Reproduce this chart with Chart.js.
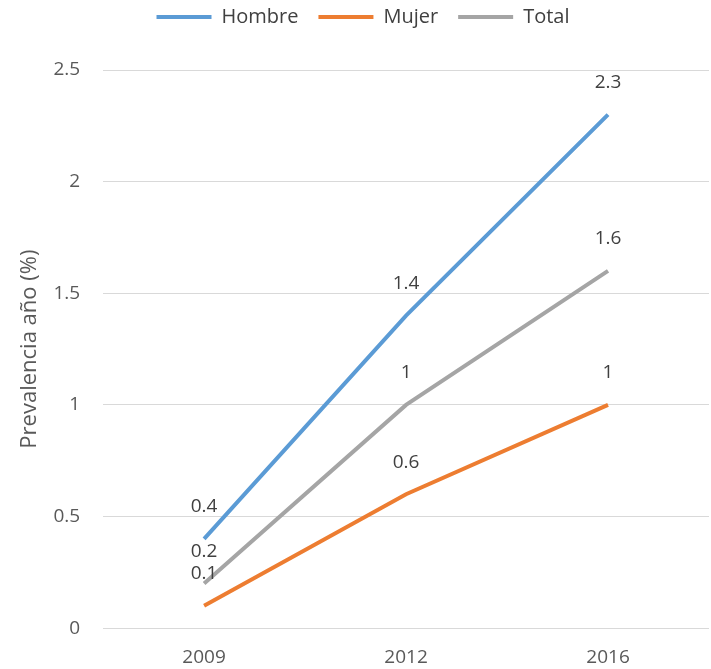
<!DOCTYPE html>
<html>
<head>
<meta charset="utf-8">
<script src="https://cdn.jsdelivr.net/npm/chart.js@4/dist/chart.umd.min.js"></script>
<style>
  html, body { margin: 0; padding: 0; background: #fff; }
  .wrap { width: 711px; height: 669px; }
</style>
</head>
<body>
<div class="wrap">
  <canvas id="prev"></canvas>
</div>
<script>
// values
var years = ['2009', '2012', '2016'];
var hombre = [0.4, 1.4, 2.3];
var mujer = [0.1, 0.6, 1];
var total = [0.2, 1, 1.6];
var yTicks = ['0', '0.5', '1', '1.5', '2', '2.5'];

var font = "'Open Sans', 'Liberation Sans', sans-serif";

// little plugin to write the value above every point
var pointLabels = {
  id: 'pointLabels',
  afterDatasetsDraw: function(chart) {
    var ctx = chart.ctx;
    ctx.save();
    ctx.font = '19px ' + font;
    ctx.fillStyle = '#404040';
    ctx.textAlign = 'center';
    ctx.textBaseline = 'middle';
    chart.data.datasets.forEach(function(ds, i) {
      var meta = chart.getDatasetMeta(i);
      meta.data.forEach(function(pt, j) {
        ctx.fillText(String(ds.data[j]), pt.x, pt.y - 32);
      });
    });
    ctx.restore();
  }
};

// leave more room between the legend and the plot
var legendGap = {
  id: 'legendGap',
  beforeInit: function(chart) {
    var fit = chart.legend.fit;
    chart.legend.fit = function() {
      fit.call(this);
      this.height += 33;
    };
  }
};

function line(label, data, color) {
  return {
    label: label,
    data: data,
    borderColor: color,
    backgroundColor: color,
    borderWidth: 4,
    pointRadius: 0,
    pointStyle: 'line',
    tension: 0,
    fill: false
  };
}

var ctx = document.getElementById('prev');
new Chart(ctx, {
  type: 'line',
  data: {
    labels: years,
    datasets: [
      line('Hombre', hombre, '#5B9BD5'),
      line('Mujer', mujer, '#ED7D31'),
      line('Total', total, '#A5A5A5')
    ]
  },
  options: {
    responsive: true,
    maintainAspectRatio: false,
    animation: false,
    layout: { padding: { left: 17, right: 2, top: -13, bottom: -18 } },
    plugins: {
      tooltip: { enabled: false },
      legend: {
        position: 'top',
        labels: {
          usePointStyle: true,
          pointStyleWidth: 55,
          boxHeight: 4,
          color: '#404040',
          font: { family: font, size: 20 },
          padding: 20
        }
      }
    },
    scales: {
      x: {
        offset: true,
        grid: { display: false, drawTicks: false },
        border: { display: false },
        ticks: { color: '#595959', font: { family: font, size: 19 }, padding: 18 }
      },
      y: {
        min: 0,
        max: 2.5,
        grid: { color: '#D9D9D9', lineWidth: 1, drawTicks: false },
        border: { display: false },
        ticks: {
          stepSize: 0.5,
          color: '#595959',
          padding: 23,
          font: { family: font, size: 19 },
          callback: function(v, i) { return yTicks[i]; }
        },
        title: {
          display: true,
          text: 'Prevalencia año (%)',
          color: '#595959',
          font: { family: font, size: 22 },
          padding: { top: 0, bottom: -13 }
        }
      }
    }
  },
  plugins: [pointLabels, legendGap]
});
</script>
</body>
</html>
